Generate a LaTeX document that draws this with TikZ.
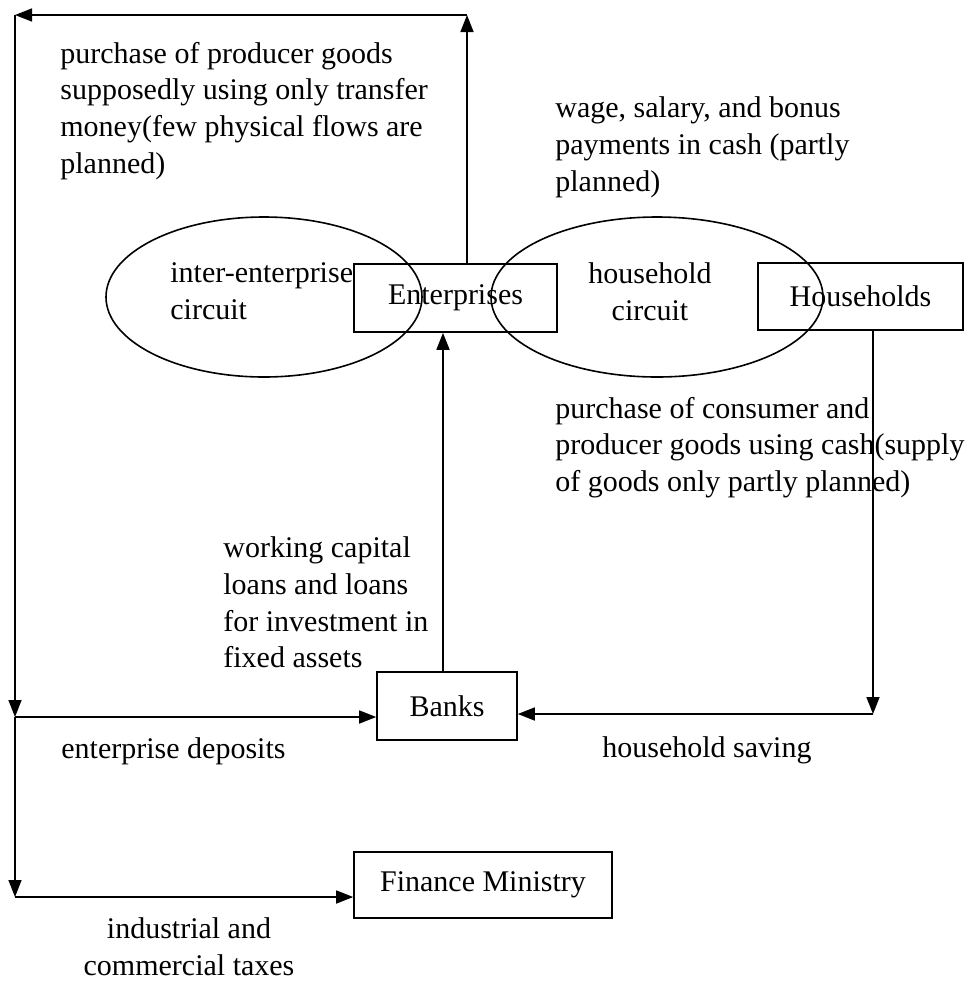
\documentclass[tikz,border=0pt]{standalone}
\usepackage{fontspec}
\setmainfont{Liberation Serif}
\usepackage{tikz}
\usetikzlibrary{arrows.meta,shapes.geometric}

\begin{document}
\begin{tikzpicture}[
    x=0.5pt, y=-0.5pt,
    box/.style={rectangle, draw, line width=0.8pt, inner sep=0pt, font=\fontsize{15pt}{18.35pt}\selectfont},
    circuit/.style={ellipse, draw, line width=0.8pt, inner sep=0pt, minimum height=80pt},
    note/.style={inner sep=0pt, align=left, font=\fontsize{15pt}{18.35pt}\selectfont},
    flow/.style={line width=0.8pt, -{Triangle[length=8.5pt,width=6.5pt]}},
]
    \useasboundingbox (0,0) rectangle (969,981);

    % sectors
    \node[box, minimum width=101.5pt, minimum height=34pt] (ent) at (455.5,298) {Enterprises};
    \node[box, minimum width=102.5pt, minimum height=33.5pt] (hh) at (860.5,296.5) {Households};
    \node[box, minimum width=70pt, minimum height=34pt] (banks) at (447,706) {Banks};
    \node[box, minimum width=129pt, minimum height=33pt] (fin) at (483,885) {Finance Ministry};

    % the two circuits
    \node[circuit, minimum width=158pt] (intercirc) at (264,297) {};
    \node[circuit, minimum width=166pt] (hhcirc) at (657,297) {};
    \node[note, anchor=north west] (intertext) at (170,262.5) {inter-enterprise\\circuit};
    \node[note, anchor=north, align=center] (hhtext) at (650,262.5) {household\\circuit};

    % corners of the flow lines
    \coordinate (tr) at (467,15);
    \coordinate (tl) at (15,15);
    \coordinate (ml) at (15,717);
    \coordinate (bl) at (15,897);
    \coordinate (hr) at (873,714);
    \coordinate (lx) at (443,0);

    \draw[flow] (tr |- ent.north) -- (tr);
    \draw[flow] (tr) -- (tl);
    \draw[flow] (tl) -- (ml);
    \draw[flow] (ml) -- (ml -| banks.west);
    \draw[flow] (ml) -- (bl);
    \draw[flow] (bl) -- (bl -| fin.west);
    \draw[flow] (lx |- banks.north) -- (lx |- ent.south);
    \draw[flow] (hr |- hh.south) -- (hr);
    \draw[flow] (hr) -- (hr -| banks.east);

    % flow labels
    \node[note, anchor=north west] (prodgoods) at (60,41.5) {purchase of producer goods\\supposedly using only transfer\\money(few physical flows are\\planned)};
    \node[note, anchor=north west] (wages) at (555,96.5) {wage, salary, and bonus\\payments in cash (partly\\planned)};
    \node[note, anchor=north west] (consgoods) at (555,396.5) {purchase of consumer and\\producer goods using cash(supply\\of goods only partly planned)};
    \node[note, anchor=north west] (loans) at (223,536.5) {working capital\\loans and loans\\for investment in\\fixed assets};
    \node[note, anchor=base west] (entdep) at (61,758) {enterprise deposits};
    \node[note, anchor=base west] (hhsave) at (602,757) {household saving};
    \node[note, anchor=north, align=center] (taxes) at (189,917.5) {industrial and\\commercial taxes};
\end{tikzpicture}
\end{document}
